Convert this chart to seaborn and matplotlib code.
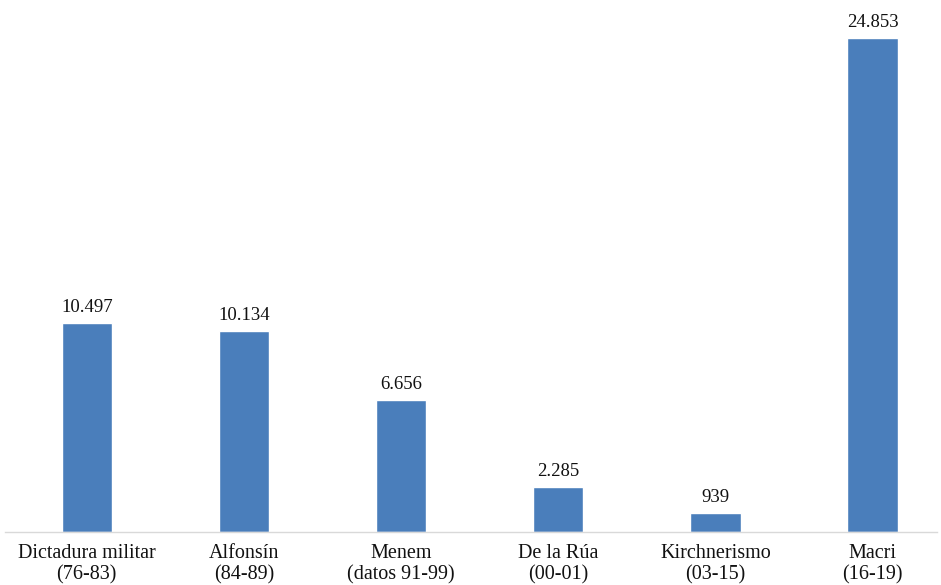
import matplotlib
matplotlib.use("Agg")
import matplotlib.pyplot as plt
import seaborn as sns
import pandas as pd

# Values per government period
periodos = ["Dictadura militar\n(76-83)", "Alfonsín\n(84-89)", "Menem\n(datos 91-99)",
            "De la Rúa\n(00-01)", "Kirchnerismo\n(03-15)", "Macri\n(16-19)"]
valores = [10497, 10134, 6656, 2285, 939, 24853]
etiquetas = ["10.497", "10.134", "6.656", "2.285", "939", "24.853"]

df = pd.DataFrame({"periodo": periodos, "valor": valores})

sns.set_theme(style="white")
plt.rcParams["font.family"] = ["Liberation Serif", "DejaVu Serif"]

fig = plt.figure(figsize=(9.41, 5.85), dpi=100)
ax = fig.add_axes([5 / 941, 53 / 585, 932 / 941, 522 / 585])

sns.barplot(data=df, x="periodo", y="valor", color="#4a7ebb", width=0.32,
            saturation=1, ax=ax)

for patch, txt in zip(ax.patches, etiquetas):
    ax.annotate(txt, (patch.get_x() + patch.get_width() / 2, patch.get_height()),
                xytext=(0, 5), textcoords="offset points", ha="center", va="bottom",
                fontsize=13.5, color="#111111")

ax.set_xlim(-0.52, 5.41)
ax.set_ylim(0, 26258)
ax.set_xlabel("")
ax.set_ylabel("")
ax.set_yticks([])
for side in ["top", "right", "left"]:
    ax.spines[side].set_visible(False)
ax.spines["bottom"].set_color("#d9d9d9")
ax.spines["bottom"].set_linewidth(1)
ax.tick_params(axis="x", length=0, pad=9, labelsize=14.5, labelcolor="#111111")
for lbl in ax.get_xticklabels():
    lbl.set_linespacing(1.1)

fig.savefig("out.png", dpi=100, facecolor="white")
